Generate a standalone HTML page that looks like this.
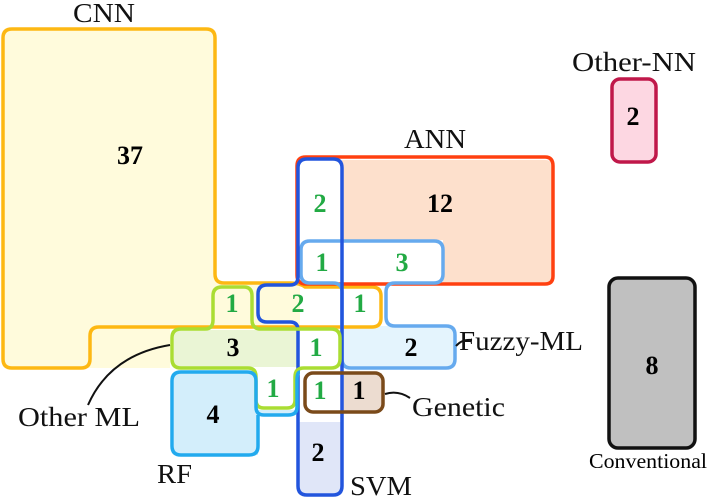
<!DOCTYPE html>
<html><head><style>
html,body{margin:0;padding:0;background:#fff;}
svg{display:block;}
text{font-family:"Liberation Serif",serif;}
.n{font-weight:bold;font-size:26px;text-anchor:middle;}
.g{fill:#22aa44;}
.l{font-size:27px;fill:#111;}
</style></head><body>
<svg width="710" height="499" viewBox="0 0 710 499" xmlns="http://www.w3.org/2000/svg">
<path d="M12 29 H206 Q215 29 215 38 V274 Q215 283 224 283 H300 V327 H170 V368 H90 V368 H12 Q3 368 3 359 V38 Q3 29 12 29 Z" fill="#fffbdc"/>
<path d="M342 160 H545 Q553 160 553 168 V276 Q553 284 545 284 H443 V240 H342 Z" fill="#fde0cc"/>
<rect x="299" y="422" width="42" height="72" fill="#e0e6f8"/>
<path d="M344 326 H446 Q455 326 455 335 V359 Q455 368 446 368 H344 Z" fill="#e4f4fd"/>
<rect x="174" y="330" width="123" height="37" fill="#eaf5d5"/>
<path d="M174 372 H255 V410 H296 V415 H258 V455 H174 Z" fill="#d3eefb"/>
<rect x="342" y="373" width="40" height="38" fill="#ecdcd0"/>
<rect x="612" y="79" width="44" height="83" rx="8" fill="#fdd7e2"/>
<rect x="609" y="278" width="86" height="170" rx="9" fill="#c0c0c0"/>
<g fill="none" stroke-width="3.5" stroke-linejoin="round">
<path d="M12 29 H206 Q215 29 215 38 V274 Q215 283 224 283 H290 Q300 283 305 287 H372 Q381 287 381 296 V318 Q381 327 372 327 H99 Q90 327 90 336 V359 Q90 368 81 368 H12 Q3 368 3 359 V38 Q3 29 12 29 Z" stroke="#fdb813"/>
<path d="M306 157 H545 Q553 157 553 166 V276 Q553 284 545 284 H306 Q297 284 297 275 V166 Q297 157 306 157 Z" stroke="#ff4010"/>
<path d="M310 241 H434 Q443 241 443 250 V274 Q443 283 434 283 H395 Q386 283 386 292 V317 Q386 326 395 326 H446 Q455 326 455 335 V359 Q455 368 446 368 H351 Q342 368 342 359 V292 Q342 283 333 283 H310 Q301 283 301 274 V250 Q301 241 310 241 Z" stroke="#66aaee"/>
<path d="M307 159 H333 Q342 159 342 168 V486 Q342 495 333 495 H307 Q298 495 298 486 V330 Q298 322 290 322 H267 Q258 322 258 313 V294 Q258 285 267 285 H290 Q298 285 298 277 V168 Q298 159 307 159 Z" stroke="#2255dd"/>
<path d="M222 287 H244 Q252 287 252 296 V320 Q252 329 261 329 H331 Q340 329 340 338 V359 Q340 368 331 368 H304 Q295 368 295 377 V400 Q295 408 287 408 H264 Q256 408 256 400 V377 Q256 368 248 368 H181 Q172 368 172 359 V338 Q172 329 181 329 H205 Q213 329 213 320 V296 Q213 287 222 287 Z" stroke="#aadd33"/>
<path d="M181 372 H247 Q256 372 256 381 V407 Q256 415 264 415 H288 Q297 415 297 407 V380 Q297 372 300 372 M258 415 V446 Q258 455 249 455 H181 Q172 455 172 446 V381 Q172 372 181 372" stroke="#22aaee"/>
<rect x="305" y="373" width="78" height="39" rx="8" stroke="#7a4a1a"/>
<rect x="612" y="79" width="44" height="83" rx="8" stroke="#c0184a"/>
<rect x="609" y="278" width="86" height="170" rx="9" stroke="#111"/>
<path d="M456 346 Q462 339 472 340" stroke="#111" stroke-width="2"/>
<path d="M170 345 Q110 355 88 405" stroke="#111" stroke-width="2"/>
<path d="M385 394 Q398 390 410 398" stroke="#111" stroke-width="2"/>
</g>
<text class="n" x="130" y="164">37</text>
<text class="n g" x="320" y="212">2</text>
<text class="n" x="440" y="212">12</text>
<text class="n g" x="322" y="271">1</text>
<text class="n g" x="402" y="271">3</text>
<text class="n g" x="232" y="312">1</text>
<text class="n g" x="298" y="312">2</text>
<text class="n g" x="360" y="312">1</text>
<text class="n" x="233" y="356">3</text>
<text class="n g" x="316" y="356">1</text>
<text class="n" x="411" y="356">2</text>
<text class="n g" x="273" y="397">1</text>
<text class="n g" x="320" y="399">1</text>
<text class="n" x="359" y="399">1</text>
<text class="n" x="213" y="423">4</text>
<text class="n" x="318" y="461">2</text>
<text class="n" x="633" y="125">2</text>
<text class="n" x="652" y="374">8</text>
<text class="l" x="73" y="22" textLength="62" lengthAdjust="spacingAndGlyphs">CNN</text>
<text class="l" x="404" y="148" textLength="62" lengthAdjust="spacingAndGlyphs">ANN</text>
<text class="l" x="572" y="71" textLength="124" lengthAdjust="spacingAndGlyphs">Other-NN</text>
<text class="l" x="459" y="350" textLength="124" lengthAdjust="spacingAndGlyphs">Fuzzy-ML</text>
<text class="l" x="412" y="416" textLength="93" lengthAdjust="spacingAndGlyphs">Genetic</text>
<text class="l" x="350" y="495" textLength="62" lengthAdjust="spacingAndGlyphs">SVM</text>
<text class="l" x="157" y="483" textLength="35" lengthAdjust="spacingAndGlyphs">RF</text>
<text class="l" x="18" y="426" textLength="122" lengthAdjust="spacingAndGlyphs">Other ML</text>
<text x="589" y="468" font-size="21" textLength="118" lengthAdjust="spacingAndGlyphs">Conventional</text>
</svg>
</body></html>
